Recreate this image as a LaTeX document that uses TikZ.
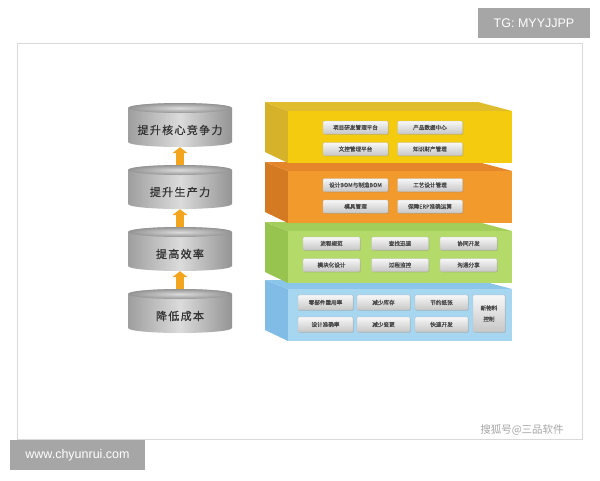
\documentclass[tikz,border=0pt]{standalone}
\usepackage{fontspec}
\setmainfont{Liberation Sans}
\newfontfamily\cjk{Noto Sans CJK SC}
\newfontfamily\cjkb[FakeBold=0.7]{Noto Sans CJK SC}
\usetikzlibrary{shadows,arrows.meta}
\definecolor{arrowc}{HTML}{F4A51E}
\definecolor{yfront}{HTML}{F4CB0E}
\definecolor{ytop}{HTML}{E0BD2C}
\definecolor{yside}{HTML}{D6B22A}
\definecolor{ofront}{HTML}{F29A2C}
\definecolor{otop}{HTML}{E5862A}
\definecolor{oside}{HTML}{D37A22}
\definecolor{gfront}{HTML}{B4DA6A}
\definecolor{gtop}{HTML}{A3CE5A}
\definecolor{gside}{HTML}{97C44F}
\definecolor{bfront}{HTML}{A7D6F1}
\definecolor{btop}{HTML}{8CC5EA}
\definecolor{bside}{HTML}{80BCE6}
\newcommand\mycyl[3]{%
  \shade[left color=black!38, right color=black!42, middle color=black!14]
    (128,#1+5) -- (128,#1+39) arc[start angle=180,end angle=0,x radius=52,y radius=5]
    -- (232,#1+5) arc[start angle=0,end angle=-180,x radius=52,y radius=5] -- cycle;
  \shade[inner color=black!14, outer color=black!42] (180,#1+5) ellipse[x radius=52,y radius=5];
  \node[minimum width=104pt, minimum height=44pt, inner sep=0] (#2) at (180,#1+22) {};
  \node[cyltext] (#2t) at (180,#1+27) {#3};
}
\newcommand\mylayer[4]{%
  \fill[#4] (265,#1-9) -- (288,#1) -- (288,#1+52) -- (265,#1+41) -- cycle;
  \fill[#3] (265,#1-9) -- (478,#1-9) -- (512,#1) -- (288,#1) -- cycle;
  \fill[#2] (288,#1) rectangle (512,#1+52);
}
\begin{document}
\begin{tikzpicture}[x=1pt,y=-1pt,
  cyltext/.style={font=\cjkb\fontsize{11}{12}\selectfont\addfontfeature{LetterSpace=12}, text=black!80, inner sep=0},
  upar/.style={draw=arrowc, line width=8pt, -{Triangle[width=15pt,length=6pt]}},
  btn/.style={draw=black!25, line width=0.3pt, rounded corners=1.2pt, top color=black!3, bottom color=black!22,
    drop shadow={opacity=0.3,shadow xshift=0.8pt,shadow yshift=-0.8pt},
    inner sep=0, font=\cjkb\fontsize{5.6}{7.5}\selectfont, text=black!72, align=center},
  markbox/.style={fill=black!35, text=white, inner sep=0, font=\fontsize{12.5}{14}\selectfont}]
\useasboundingbox (0,0) rectangle (600,480);
\fill[white] (0,0) rectangle (600,480);
\draw[black!15, line width=0.6pt] (17,43) rectangle (582,439);
% cylinders
\mycyl{103}{c1}{提升核心竞争力}
\mycyl{165}{c2}{提升生产力}
\mycyl{227}{c3}{提高效率}
\mycyl{289}{c4}{降低成本}
\draw[upar] (c2.north) -- (c1.south);
\draw[upar] (c3.north) -- (c2.south);
\draw[upar] (c4.north) -- (c3.south);
% layers (bottom first)
\mylayer{289}{bfront}{btop}{bside}
\mylayer{231}{gfront}{gtop}{gside}
\mylayer{171}{ofront}{otop}{oside}
\mylayer{111}{yfront}{ytop}{yside}
% yellow buttons
\node[btn, minimum width=65pt, minimum height=13pt] (y1) at (355.5,127.5) {项目研发管理平台};
\node[btn, minimum width=65pt, minimum height=13pt] (y2) at (430,127.5) {产品数据中心};
\node[btn, minimum width=65pt, minimum height=13pt] (y3) at (355.5,149) {文控管理平台};
\node[btn, minimum width=65pt, minimum height=13pt] (y4) at (430,149) {知识财产管理};
% orange buttons
\node[btn, minimum width=65pt, minimum height=13pt] (o1) at (355.5,185) {设计BOM与制造BOM};
\node[btn, minimum width=65pt, minimum height=13pt] (o2) at (430,185) {工艺设计管理};
\node[btn, minimum width=65pt, minimum height=13pt] (o3) at (355.5,206.5) {模具管理};
\node[btn, minimum width=65pt, minimum height=13pt] (o4) at (430,206.5) {保障ERP准确运算};
% green buttons
\node[btn, minimum width=57pt, minimum height=13pt] (g1) at (331.5,243.5) {流程规范};
\node[btn, minimum width=57pt, minimum height=13pt] (g2) at (400,243.5) {查找迅速};
\node[btn, minimum width=57pt, minimum height=13pt] (g3) at (468.5,243.5) {协同开发};
\node[btn, minimum width=57pt, minimum height=13pt] (g4) at (331.5,265) {模块化设计};
\node[btn, minimum width=57pt, minimum height=13pt] (g5) at (400,265) {过程监控};
\node[btn, minimum width=57pt, minimum height=13pt] (g6) at (468.5,265) {沟通分享};
% blue buttons
\node[btn, minimum width=55pt, minimum height=15pt] (b1) at (325.5,302.5) {零部件重用率};
\node[btn, minimum width=53pt, minimum height=15pt] (b2) at (383.5,302.5) {减少库存};
\node[btn, minimum width=53pt, minimum height=15pt] (b3) at (441.5,302.5) {节约纸张};
\node[btn, minimum width=55pt, minimum height=15pt] (b4) at (325.5,324.5) {设计准确率};
\node[btn, minimum width=53pt, minimum height=15pt] (b5) at (383.5,324.5) {减少变更};
\node[btn, minimum width=53pt, minimum height=15pt] (b6) at (441.5,324.5) {快速开发};
\node[btn, minimum width=32pt, minimum height=37pt, font=\cjkb\fontsize{5.6}{11}\selectfont] (b7) at (489,313.5) {新物料\\控制};
% marks
\node[markbox, minimum width=112pt, minimum height=30pt] (tg) at (534,23) {TG: MYYJJPP};
\node[markbox, minimum width=135pt, minimum height=30pt] (www) at (77.5,455) {www.chyunrui.com};
\node[font=\cjk\fontsize{10.5}{12}\selectfont, text=black!35, inner sep=0] (wm) at (522,430) {搜狐号@三品软件};
\end{tikzpicture}
\end{document}
